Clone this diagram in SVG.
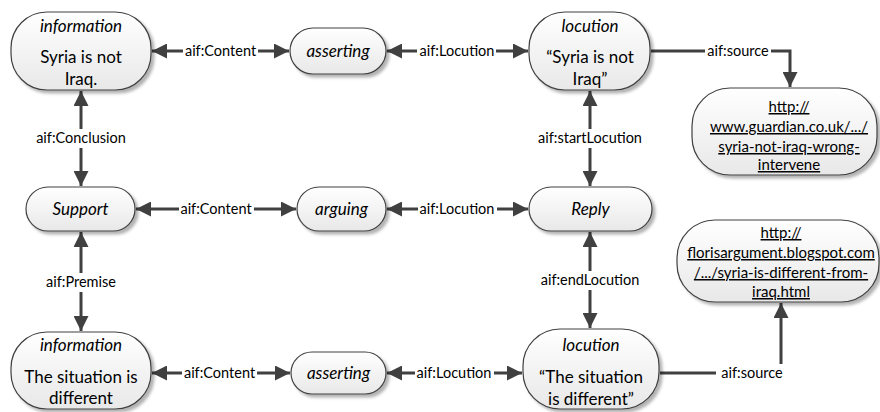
<svg xmlns="http://www.w3.org/2000/svg" width="880" height="412" viewBox="0 0 880 412">
<style>
  .node rect.b{fill:url(#g);stroke:#404040;stroke-width:1.2}
  .node text{font-family:Lato,"Liberation Sans",sans-serif;font-size:17px;fill:#000;text-anchor:middle}
  .node text.i{font-style:italic}
  .node text.u{font-size:15px;text-decoration:underline}
  .e{stroke:#404040;stroke-width:3;fill:none}
  .d{marker-start:url(#ah);marker-end:url(#ah)}
  .s{marker-end:url(#ah)}
  .lb{fill:#fff}
  .lt{font-family:Lato,"Liberation Sans",sans-serif;font-size:14.5px;fill:#000;text-anchor:middle}
</style>
<defs>
  <linearGradient id="g" x1="0" y1="0" x2="0" y2="1">
    <stop offset="0" stop-color="#ffffff"/>
    <stop offset="1" stop-color="#e8e8e8"/>
  </linearGradient>
  <filter id="sh" x="-10%" y="-10%" width="130%" height="140%">
    <feDropShadow dx="3" dy="3" stdDeviation="1.5" flood-color="#000" flood-opacity="0.3"/>
  </filter>
  <marker id="ah" markerUnits="userSpaceOnUse" markerWidth="15" markerHeight="15" refX="15" refY="7.5" orient="auto-start-reverse" viewBox="0 0 15 15">
    <path d="M0,0 L15,7.5 L0,15 z" fill="#404040"/>
  </marker>
</defs>

<g id="connectors">
  <line class="e d" x1="152" y1="51" x2="289" y2="51"/>
  <line class="e d" x1="387" y1="51" x2="528" y2="51"/>
  <path class="e s" d="M651,51 H790 V87"/>
  <line class="e d" x1="81" y1="91" x2="81" y2="186"/>
  <line class="e d" x1="590" y1="91" x2="590" y2="186"/>
  <line class="e d" x1="136" y1="209" x2="296" y2="209"/>
  <line class="e d" x1="387" y1="209" x2="528" y2="209"/>
  <line class="e d" x1="81" y1="232" x2="81" y2="331"/>
  <line class="e d" x1="590" y1="232" x2="590" y2="328"/>
  <line class="e d" x1="152" y1="373" x2="290" y2="373"/>
  <line class="e d" x1="387" y1="373" x2="522" y2="373"/>
  <path class="e s" d="M660,373 H781 V303"/>

  <rect class="lb" x="183" y="42" width="75" height="18"/>
  <text class="lt" x="220.5" y="56">aif:Content</text>
  <rect class="lb" x="417" y="42" width="79" height="18"/>
  <text class="lt" x="457" y="56">aif:Locution</text>
  <rect class="lb" x="705" y="42" width="66" height="18"/>
  <text class="lt" x="738" y="56">aif:source</text>
  <rect class="lb" x="33" y="129" width="96" height="19"/>
  <text class="lt" x="81" y="143">aif:Conclusion</text>
  <rect class="lb" x="536" y="129" width="108" height="19"/>
  <text class="lt" x="590" y="143">aif:startLocution</text>
  <rect class="lb" x="179" y="200" width="75" height="18"/>
  <text class="lt" x="216" y="214">aif:Content</text>
  <rect class="lb" x="418" y="200" width="79" height="18"/>
  <text class="lt" x="457" y="214">aif:Locution</text>
  <rect class="lb" x="44" y="273" width="74" height="19"/>
  <text class="lt" x="81" y="287">aif:Premise</text>
  <rect class="lb" x="539" y="271" width="102" height="19"/>
  <text class="lt" x="590" y="285">aif:endLocution</text>
  <rect class="lb" x="182" y="364" width="75" height="18"/>
  <text class="lt" x="219.5" y="378">aif:Content</text>
  <rect class="lb" x="415" y="364" width="79" height="18"/>
  <text class="lt" x="454" y="378">aif:Locution</text>
  <rect class="lb" x="716" y="364" width="72" height="18"/>
  <text class="lt" x="752" y="378">aif:source</text>
</g>

<g id="info1" class="node">
  <rect class="b" x="11" y="12" width="140" height="78" rx="36" filter="url(#sh)"/>
  <text class="i" x="81" y="32">information</text>
  <text x="81" y="63">Syria is not</text>
  <text x="81" y="85">Iraq.</text>
</g>
<g id="asserting1" class="node">
  <rect class="b" x="290" y="28" width="96" height="46" rx="23" filter="url(#sh)"/>
  <text class="i" x="338" y="57">asserting</text>
</g>
<g id="locution1" class="node">
  <rect class="b" x="529" y="12" width="121" height="78" rx="36" filter="url(#sh)"/>
  <text class="i" x="590" y="32">locution</text>
  <text x="590" y="63">“Syria is not</text>
  <text x="590" y="85">Iraq”</text>
</g>
<g id="source1" class="node">
  <rect class="b" x="692" y="88" width="185" height="87" rx="38" filter="url(#sh)"/>
  <text class="u" x="789" y="112">http://</text>
  <text class="u" x="789" y="132">www.guardian.co.uk/.../</text>
  <text class="u" x="789" y="152">syria-not-iraq-wrong-</text>
  <text class="u" x="789" y="170">intervene</text>
</g>
<g id="support" class="node">
  <rect class="b" x="26" y="187" width="109" height="44" rx="22" filter="url(#sh)"/>
  <text class="i" x="80.5" y="215">Support</text>
</g>
<g id="arguing" class="node">
  <rect class="b" x="297" y="187" width="89" height="44" rx="22" filter="url(#sh)"/>
  <text class="i" x="341.5" y="215">arguing</text>
</g>
<g id="reply" class="node">
  <rect class="b" x="529" y="187" width="123" height="44" rx="22" filter="url(#sh)"/>
  <text class="i" x="590.5" y="215">Reply</text>
</g>
<g id="source2" class="node">
  <rect class="b" x="677" y="220" width="202" height="82" rx="38" filter="url(#sh)"/>
  <text class="u" x="781" y="238">http://</text>
  <text class="u" x="781" y="258">florisargument.blogspot.com</text>
  <text class="u" x="781" y="278">/.../syria-is-different-from-</text>
  <text class="u" x="781" y="297">iraq.html</text>
</g>
<g id="info2" class="node">
  <rect class="b" x="11" y="332" width="140" height="77" rx="36" filter="url(#sh)"/>
  <text class="i" x="81" y="351">information</text>
  <text x="81" y="383">The situation is</text>
  <text x="81" y="404">different</text>
</g>
<g id="asserting2" class="node">
  <rect class="b" x="291" y="352" width="95" height="42" rx="21" filter="url(#sh)"/>
  <text class="i" x="338.5" y="379">asserting</text>
</g>
<g id="locution2" class="node">
  <rect class="b" x="523" y="329" width="136" height="80" rx="37" filter="url(#sh)"/>
  <text class="i" x="591" y="351">locution</text>
  <text x="591" y="383">“The situation</text>
  <text x="591" y="405">is different”</text>
</g>
</svg>
